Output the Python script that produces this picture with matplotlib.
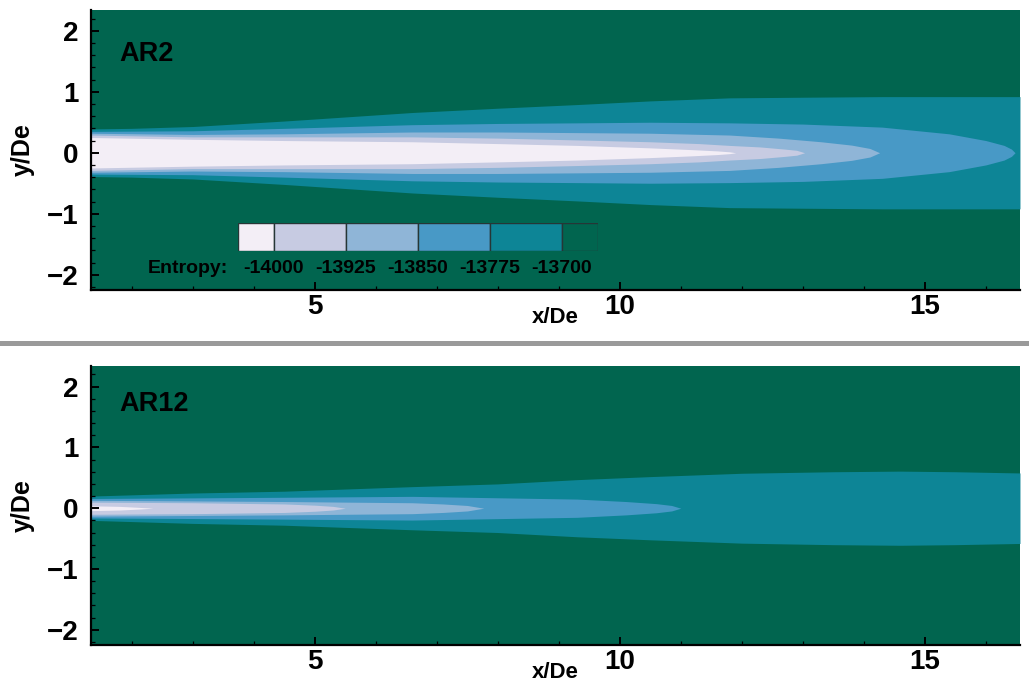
import numpy as np
import matplotlib
matplotlib.use("Agg")
import matplotlib.pyplot as plt
from matplotlib.patches import Rectangle
from matplotlib.ticker import MultipleLocator

plt.rcParams['font.family'] = ['Liberation Sans', 'DejaVu Sans']
plt.rcParams['font.weight'] = 'bold'

# contour levels of the legend and band colours (lowest entropy first)
levels = [-14000, -13925, -13850, -13775, -13700]
colors = ['#f3eef6', '#c7cbe2', '#8fb5d7', '#4899c6', '#0d8596', '#01654f']

# AR2: half-width (y/De) of each band boundary vs x/De
ar2_teal_x = [1.33, 2.0, 3.0, 4.5, 6.6, 8.0, 9.3, 10.5, 11.8, 13.0, 14.3, 15.4, 16.56]
ar2_teal_h = [0.39, 0.40, 0.43, 0.52, 0.66, 0.73, 0.79, 0.85, 0.90, 0.91, 0.92, 0.92, 0.92]
ar2_mb_x = [1.33, 3.0, 4.5, 6.6, 8.0, 9.3, 10.5, 11.8, 13.0, 14.3, 15.4, 16.0, 16.3, 16.42, 16.48]
ar2_mb_h = [0.35, 0.36, 0.40, 0.46, 0.48, 0.49, 0.50, 0.49, 0.47, 0.42, 0.31, 0.20, 0.12, 0.06, 0.0]
ar2_lb_x = [1.33, 3.0, 4.5, 6.6, 8.0, 9.3, 10.5, 11.8, 12.6, 13.3, 13.8, 14.1, 14.26]
ar2_lb_h = [0.32, 0.30, 0.31, 0.34, 0.34, 0.33, 0.32, 0.29, 0.24, 0.18, 0.125, 0.07, 0.0]
ar2_lav_x = [1.33, 3.0, 4.5, 6.6, 8.0, 9.3, 10.5, 11.3, 11.8, 12.3, 12.7, 12.9, 13.03]
ar2_lav_h = [0.29, 0.26, 0.26, 0.26, 0.24, 0.21, 0.18, 0.15, 0.12, 0.095, 0.06, 0.04, 0.0]
ar2_white_x = [1.33, 3.0, 4.5, 6.6, 8.0, 9.3, 10.5, 11.2, 11.6, 11.8, 11.9]
ar2_white_h = [0.25, 0.22, 0.20, 0.18, 0.15, 0.12, 0.08, 0.05, 0.03, 0.015, 0.0]

# AR12
ar12_teal_x = [1.33, 3.0, 4.5, 6.6, 8.0, 9.3, 10.5, 12.0, 13.5, 14.6, 15.5, 16.56]
ar12_teal_h = [0.20, 0.25, 0.28, 0.355, 0.40, 0.47, 0.52, 0.575, 0.60, 0.61, 0.60, 0.58]
ar12_mb_x = [1.33, 3.0, 4.5, 6.6, 7.8, 9.3, 10.1, 10.6, 10.85, 11.0]
ar12_mb_h = [0.16, 0.17, 0.18, 0.195, 0.175, 0.15, 0.11, 0.075, 0.045, 0.0]
ar12_lb_x = [1.33, 3.0, 4.5, 5.5, 6.6, 7.1, 7.5, 7.77]
ar12_lb_h = [0.13, 0.12, 0.11, 0.10, 0.09, 0.07, 0.045, 0.0]
ar12_lav_x = [1.33, 3.0, 4.5, 5.0, 5.3, 5.5]
ar12_lav_h = [0.10, 0.09, 0.07, 0.05, 0.03, 0.0]
ar12_white_x = [1.33, 1.8, 2.1, 2.35]
ar12_white_h = [0.04, 0.03, 0.015, 0.0]

ar2_bands = [(ar2_teal_x, ar2_teal_h), (ar2_mb_x, ar2_mb_h), (ar2_lb_x, ar2_lb_h),
             (ar2_lav_x, ar2_lav_h), (ar2_white_x, ar2_white_h)]
ar12_bands = [(ar12_teal_x, ar12_teal_h), (ar12_mb_x, ar12_mb_h), (ar12_lb_x, ar12_lb_h),
              (ar12_lav_x, ar12_lav_h), (ar12_white_x, ar12_white_h)]

fig = plt.figure(figsize=(10.29, 6.81), dpi=100)
ax1 = fig.add_axes([0.0884, 0.5742, 0.9028, 0.4111])
ax2 = fig.add_axes([0.0884, 0.0529, 0.9028, 0.4097])


def draw_panel(ax, bands, name, name_y):
    ax.set_facecolor(colors[-1])
    # outer band first, inner bands on top
    for (x, h), c in zip(bands, colors[4::-1]):
        x = np.array(x)
        h = np.array(h)
        ax.fill_between(x, -h, h, color=c, lw=0)
    ax.set_xlim(1.33, 16.56)
    ax.set_ylim(-2.25, 2.34)
    ax.xaxis.set_major_locator(MultipleLocator(5))
    ax.xaxis.set_minor_locator(MultipleLocator(1))
    ax.yaxis.set_major_locator(MultipleLocator(1))
    ax.yaxis.set_minor_locator(MultipleLocator(0.2))
    ax.tick_params(which='both', direction='in', colors='black', labelsize=20)
    ax.tick_params(which='major', length=6, width=1.4)
    ax.tick_params(which='minor', length=3, width=0.9)
    ax.tick_params(axis='y', pad=9)
    ax.tick_params(axis='x', pad=3)
    for lab in ax.get_xticklabels() + ax.get_yticklabels():
        lab.set_fontweight('bold')
    for s in ['top', 'right']:
        ax.spines[s].set_visible(False)
    for s in ['left', 'bottom']:
        ax.spines[s].set_linewidth(1.6)
        ax.spines[s].set_color('black')
    ax.set_xlabel('x/De', fontsize=16, fontweight='bold')
    ax.xaxis.set_label_coords(0.5, -0.060)
    ax.set_ylabel('y/De', fontsize=18, fontweight='bold')
    ax.yaxis.set_label_coords(-0.060, 0.5)
    ax.text(1.79, name_y, name, fontsize=19.5, fontweight='bold', va='baseline')


draw_panel(ax1, ar2_bands, 'AR2', 1.51)
draw_panel(ax2, ar12_bands, 'AR12', 1.60)

# legend bar (Tecplot style)
step = levels[1] - levels[0]
edges = [levels[0] - step / 2] + levels + [levels[-1] + step / 2]
lax = ax1.inset_axes([3.74, -1.61, 5.90, 0.46], transform=ax1.transData)
lax.bar(edges[:-1], 1, width=np.diff(edges), align='edge', color=colors,
        edgecolor='#263636', linewidth=1.0)
lax.set_xlim(edges[0], edges[-1])
lax.set_ylim(0, 1)
lax.axis('off')
for lv in levels:
    lax.text(lv, -0.63, str(lv), ha='center', va='center', fontsize=14, fontweight='bold')
ax1.text(3.58, -1.90, 'Entropy:', ha='right', va='center', fontsize=14, fontweight='bold')

# grey separator between the two panels
fig.add_artist(Rectangle((0, 1 - 346 / 681), 1, 5 / 681, transform=fig.transFigure,
                         color='#9a9a9a', lw=0))

fig.savefig('out.png', dpi=100)
